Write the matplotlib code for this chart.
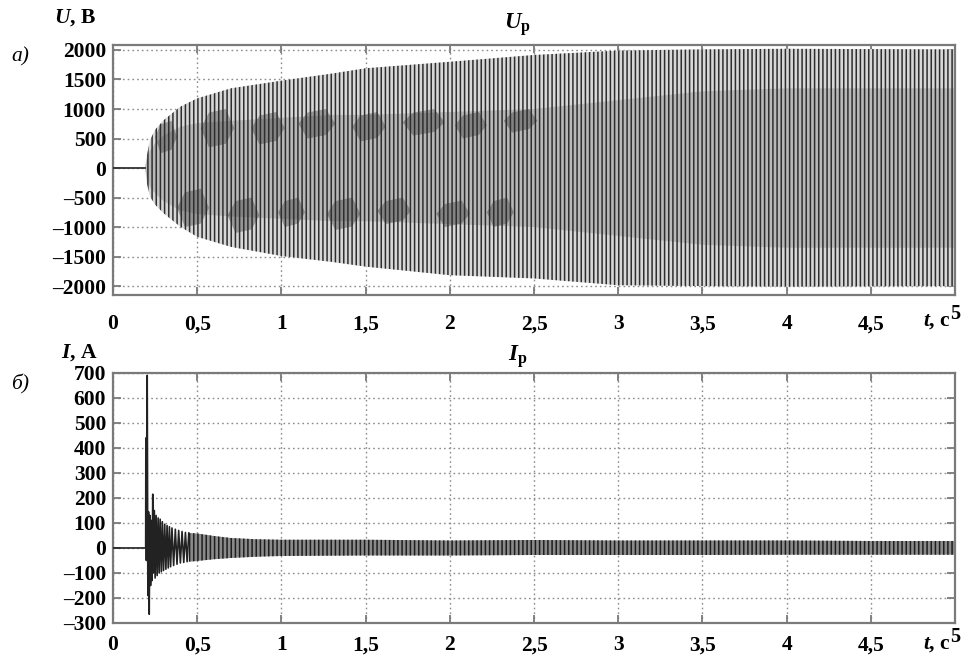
import matplotlib.pyplot as plt
import numpy as np

plt.rcParams['font.family'] = ['Liberation Serif', 'DejaVu Serif']
plt.rcParams['mathtext.fontset'] = 'custom'
plt.rcParams['mathtext.rm'] = 'Liberation Serif:bold'
plt.rcParams['mathtext.it'] = 'Liberation Serif:italic:bold'
plt.rcParams['mathtext.bf'] = 'Liberation Serif:bold'
plt.rcParams['hatch.linewidth'] = 1.1

# --- данные, снятые с осциллограммы ---
# напряжение U_p: огибающая
t_u = [0.19, 0.20, 0.22, 0.25, 0.30, 0.40, 0.50, 0.70, 1.00, 1.30, 1.50, 2.00, 2.50, 3.00, 3.50, 4.00, 4.50, 5.00]
u_verh = [0, 200, 475, 650, 810, 1040, 1180, 1350, 1480, 1600, 1690, 1800, 1915, 1990, 2010, 2020, 2015, 2010]
u_niz = [0, -250, -485, -620, -765, -995, -1165, -1335, -1490, -1590, -1670, -1815, -1870, -1985, -2000, -2010, -2005, -2000]
# внутренняя (более тёмная) полоса колебаний
u_vn_verh = [0, 150, 300, 420, 550, 700, 760, 800, 850, 900, 900, 950, 1000, 1150, 1300, 1350, 1350, 1350]
u_vn_niz = [0, -150, -320, -430, -560, -720, -780, -820, -860, -900, -900, -950, -1000, -1150, -1300, -1350, -1350, -1350]
# тёмные пятна биений (начало, конец, нижняя, верхняя граница)
pyatna = [
    (0.25, 0.38, 250, 800), (0.52, 0.72, 350, 1000), (0.82, 1.02, 400, 950),
    (1.10, 1.32, 500, 1000), (1.42, 1.62, 450, 950), (1.72, 1.97, 550, 1000),
    (2.03, 2.22, 500, 950), (2.32, 2.52, 600, 1000),
    (0.38, 0.57, -1000, -350), (0.68, 0.87, -1100, -500), (0.98, 1.14, -1000, -500),
    (1.27, 1.47, -1050, -500), (1.57, 1.77, -950, -500), (1.92, 2.12, -1000, -550),
    (2.22, 2.38, -1000, -500),
]

# ток I_p: начальный бросок (пики)
t_pik = [0.0, 0.194, 0.195, 0.198, 0.203, 0.207, 0.211, 0.215, 0.219, 0.223, 0.228, 0.232,
         0.236, 0.240, 0.245, 0.250, 0.256, 0.262, 0.268, 0.274, 0.280, 0.287, 0.293,
         0.300, 0.307, 0.314, 0.321, 0.328, 0.335, 0.342, 0.350, 0.360, 0.370, 0.380,
         0.390, 0.400, 0.410, 0.420, 0.430, 0.440, 0.450]
i_pik = [0, 0, 440, -50, 690, -190, 145, -265, 130, -150, 110, -130,
         215, -100, 150, -120, 130, -110, 120, -100, 115, -95, 105,
         -90, 95, -85, 90, -80, 85, -75, 80, -70, 75, -65,
         70, -60, 66, -58, 62, -55, 60]
# ток: огибающая установившихся колебаний
t_i = [0.45, 0.50, 0.60, 0.70, 0.85, 1.00, 1.50, 2.00, 2.50, 3.00, 3.50, 4.00, 4.50, 5.00]
i_verh = [60, 58, 48, 40, 35, 33, 33, 30, 32, 30, 30, 30, 28, 28]
i_niz = [-55, -52, -45, -40, -35, -32, -30, -30, -28, -28, -28, -27, -27, -27]

x_tiki = [0, 0.5, 1, 1.5, 2, 2.5, 3, 3.5, 4, 4.5]
x_podpisi = ['0', '0,5', '1', '1,5', '2', '2,5', '3', '3,5', '4', '4,5']
u_tiki = [-2000, -1500, -1000, -500, 0, 500, 1000, 1500, 2000]
i_tiki = [-300, -200, -100, 0, 100, 200, 300, 400, 500, 600, 700]

RAMKA = '#7a7a7a'
SHRIFT = 15.5


def minus(v):
    return str(v).replace('-', '\u2013')


def oformit(ax, yticks, ylim, xpad):
    ax.set_xlim(0, 5)
    ax.set_ylim(*ylim)
    ax.set_xticks(x_tiki + [5])
    ax.set_xticklabels(x_podpisi + [''])
    ax.set_yticks(yticks)
    ax.set_yticklabels([minus(v) for v in yticks])
    ax.grid(True, linestyle=(0, (1.2, 2.2)), color='#8c8c8c', linewidth=1.0)
    ax.tick_params(direction='in', length=6, width=1.3, color=RAMKA,
                   top=True, right=True, labelsize=SHRIFT, pad=5)
    ax.tick_params(axis='x', pad=xpad)
    for lab in ax.get_xticklabels() + ax.get_yticklabels():
        lab.set_fontweight('bold')
    for s in ax.spines.values():
        s.set_color(RAMKA)
        s.set_linewidth(1.6)
    ax.set_axisbelow(True)


def podpis_t(ax, y):
    ax.text(0.9945, y, r'$t$, с', transform=ax.transAxes, ha='right', va='center',
            fontsize=SHRIFT, fontweight='bold')
    ax.text(1.0, y + 0.03, '5', transform=ax.transAxes, ha='center', va='center',
            fontsize=SHRIFT - 1, fontweight='bold')


fig = plt.figure(figsize=(9.61, 6.58), dpi=100)
ax1 = fig.add_axes([0.1176, 0.5517, 0.8762, 0.38])
ax2 = fig.add_axes([0.1176, 0.0532, 0.8762, 0.38])

# --- а) напряжение ---
ax1.plot([0, 0.19], [0, 0], color='#333333', linewidth=1.3, zorder=3)
ax1.fill_between(t_u, u_niz, u_verh, facecolor='#d8d8d8', linewidth=0, zorder=2)
ax1.fill_between(t_u, u_vn_niz, u_vn_verh, facecolor='#8a8a8a', alpha=0.4,
                 linewidth=0, zorder=2.2)
for t0, t1, lo, hi in pyatna:
    shag = (t1 - t0) / 4
    sered = (lo + hi) / 2
    ax1.fill_between([t0, t0 + shag, t1 - shag, t1],
                     [sered, lo, lo + 60, sered], [sered, hi - 60, hi, sered],
                     facecolor='#202020', alpha=0.35, linewidth=0, zorder=2.4)
# вертикальные штрихи колебаний поверх всех тонов
ax1.fill_between(t_u, u_niz, u_verh, facecolor='none', edgecolor='#2e2e2e',
                 hatch='||||', linewidth=0, zorder=2.6)
oformit(ax1, u_tiki, (-2150, 2085), 14)
podpis_t(ax1, -0.105)
ax1.text(-0.045, 1.108, r'$U$, В', transform=ax1.transAxes, ha='center', va='center',
         fontsize=SHRIFT, fontweight='bold')
ax1.text(0.4805, 1.08, r'$U_\mathrm{p}$', transform=ax1.transAxes, ha='center', va='center',
         fontsize=SHRIFT + 1)
fig.text(0.021, 0.913, 'а)', ha='center', va='center', fontsize=SHRIFT, style='italic')

# --- б) ток ---
ax2.fill_between(t_i, i_niz, i_verh, facecolor='#8a8a8a', edgecolor='#1e1e1e',
                 hatch='||||', linewidth=0, zorder=2)
ax2.plot(t_pik, i_pik, color='#222222', linewidth=1.2, zorder=3)
oformit(ax2, i_tiki, (-300, 700), 9)
podpis_t(ax2, -0.085)
ax2.text(-0.04, 1.08, r'$I$, А', transform=ax2.transAxes, ha='center', va='center',
         fontsize=SHRIFT, fontweight='bold')
ax2.text(0.4805, 1.064, r'$I_\mathrm{p}$', transform=ax2.transAxes, ha='center', va='center',
         fontsize=SHRIFT + 1)
fig.text(0.021, 0.415, 'б)', ha='center', va='center', fontsize=SHRIFT, style='italic')

fig.savefig('out.png', dpi=100)
